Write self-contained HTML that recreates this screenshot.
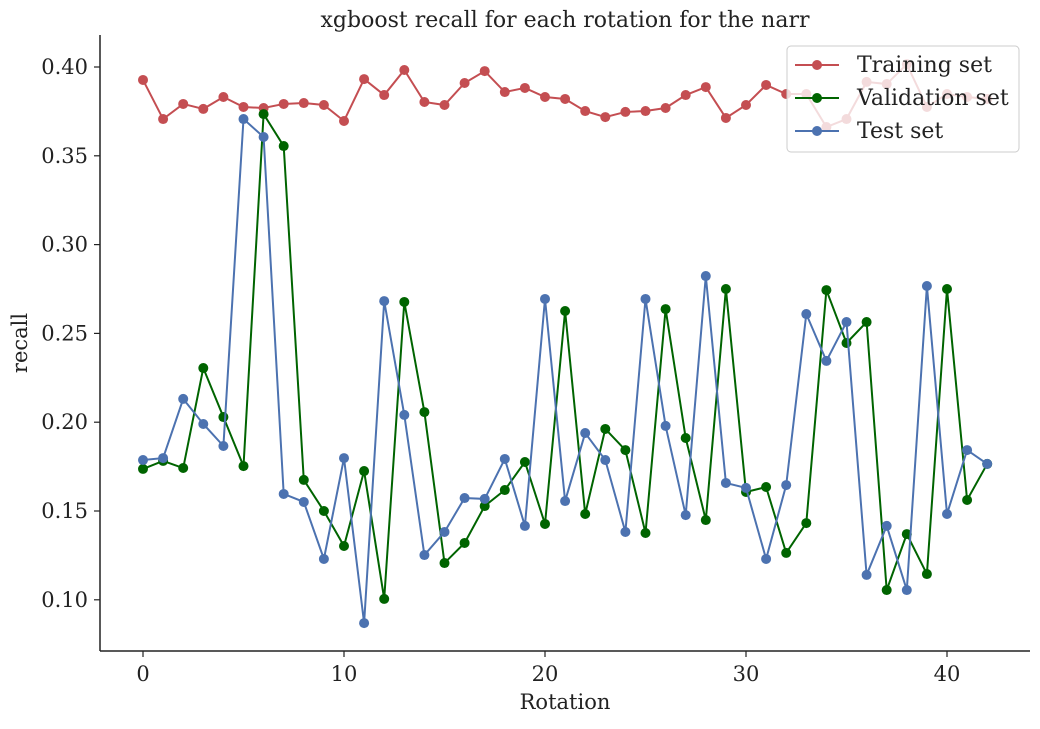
<!DOCTYPE html>
<html><head><meta charset="utf-8"><style>
body{margin:0;background:#fff;}
svg text{font-family:"DejaVu Serif","Liberation Serif",serif;fill:#222;}
</style></head><body>
<svg id="chart" width="1040" height="724" xmlns="http://www.w3.org/2000/svg">
<text x="565" y="27" text-anchor="middle" font-size="22">xgboost recall for each rotation for the narr</text>
<g id="grid"></g>
<g id="series"></g>
<g id="axes"></g>
<text x="565" y="709" text-anchor="middle" font-size="21">Rotation</text>
<text transform="translate(27,343) rotate(-90)" text-anchor="middle" font-size="21">recall</text>
<g id="legend">
<rect x="787" y="46" width="232" height="106" rx="4" fill="rgba(255,255,255,0.8)" stroke="#ccc"/>
<g><line x1="795" y1="65" x2="839" y2="65" stroke="#c44e52" stroke-width="2"/><circle cx="817" cy="65" r="5" fill="#c44e52"/><text x="857" y="72" font-size="22">Training set</text></g>
<g><line x1="795" y1="98" x2="839" y2="98" stroke="#006400" stroke-width="2"/><circle cx="817" cy="98" r="5" fill="#006400"/><text x="857" y="105" font-size="22">Validation set</text></g>
<g><line x1="795" y1="131" x2="839" y2="131" stroke="#4c72b0" stroke-width="2"/><circle cx="817" cy="131" r="5" fill="#4c72b0"/><text x="857" y="138" font-size="22">Test set</text></g>
</g>
</svg>
<script>
const rotations = Array.from({length:43},(_,i)=>i);
const trainRecall = [0.3927,0.3707,0.3792,0.3764,0.3831,0.3775,0.3769,0.3792,0.3797,0.3786,0.3696,0.3932,0.3842,0.3983,0.3803,0.3786,0.3910,0.3977,0.3859,0.3882,0.3831,0.3820,0.3752,0.3718,0.3747,0.3752,0.3769,0.3842,0.3887,0.3713,0.3786,0.3899,0.3848,0.3848,0.3662,0.3707,0.3916,0.3904,0.4016,0.3775,0.3848,0.3831,0.3820];
const valRecall = [0.1737,0.1782,0.1742,0.2305,0.2029,0.1753,0.3735,0.3555,0.1675,0.1500,0.1303,0.1725,0.1005,0.2677,0.2057,0.1207,0.1320,0.1528,0.1618,0.1776,0.1427,0.2626,0.1483,0.1962,0.1843,0.1376,0.2637,0.1911,0.1449,0.2750,0.1607,0.1635,0.1264,0.1432,0.2744,0.2446,0.2564,0.1055,0.1370,0.1145,0.2750,0.1562,0.1765];
const testRecall = [0.1787,0.1798,0.2131,0.1990,0.1866,0.3707,0.3606,0.1596,0.1551,0.1230,0.1798,0.0869,0.2682,0.2041,0.1252,0.1382,0.1573,0.1568,0.1793,0.1416,0.2694,0.1556,0.1939,0.1787,0.1382,0.2694,0.1979,0.1477,0.2823,0.1658,0.1630,0.1230,0.1646,0.2609,0.2345,0.2564,0.1140,0.1416,0.1055,0.2767,0.1483,0.1843,0.1765];
const xTicks = [0,10,20,30,40];
const yTicks = [0.10,0.15,0.20,0.25,0.30,0.35,0.40];
const NS="http://www.w3.org/2000/svg";
const xs = v => 143 + v*20.1;
const ys = v => 67 + (0.40 - v)*1776;
function mk(tag, attrs, parent){const e=document.createElementNS(NS,tag);for(const k in attrs)e.setAttribute(k,attrs[k]);parent.appendChild(e);return e;}
const axes=document.getElementById('axes');
let sp=mk('line',{x1:100,y1:35,x2:100,y2:651,stroke:'#222','stroke-width':1.5},axes);


sp=mk('line',{x1:100,y1:651,x2:1030,y2:651,stroke:'#222','stroke-width':1.5},axes);


xTicks.forEach(t=>{
  mk('line',{x1:xs(t),y1:651,x2:xs(t),y2:657,stroke:'#222','stroke-width':1.2},axes);
  const tx=mk('text',{x:xs(t),y:681,'text-anchor':'middle','font-size':21},axes);
  tx.textContent=t;
  
  
});
yTicks.forEach(t=>{
  mk('line',{x1:94,y1:ys(t),x2:100,y2:ys(t),stroke:'#222','stroke-width':1.2},axes);
  const tx=mk('text',{x:88,y:ys(t)+7,'text-anchor':'end','font-size':21},axes);
  tx.textContent=t.toFixed(2);
  
  
});
const series=document.getElementById('series');
function draw(vals,color,name){
  const g=mk('g',{},series);
  
  
  mk('polyline',{points:vals.map((v,i)=>xs(rotations[i])+','+ys(v)).join(' '),fill:'none',stroke:color,'stroke-width':2},g);
  vals.forEach((v,i)=>{
    const c=mk('circle',{cx:xs(rotations[i]),cy:ys(v),r:5,fill:color},g);
    
    
  });
}
draw(trainRecall,'#c44e52','training-series');
draw(valRecall,'#006400','validation-series');
draw(testRecall,'#4c72b0','test-series');
</script>
</body></html>
